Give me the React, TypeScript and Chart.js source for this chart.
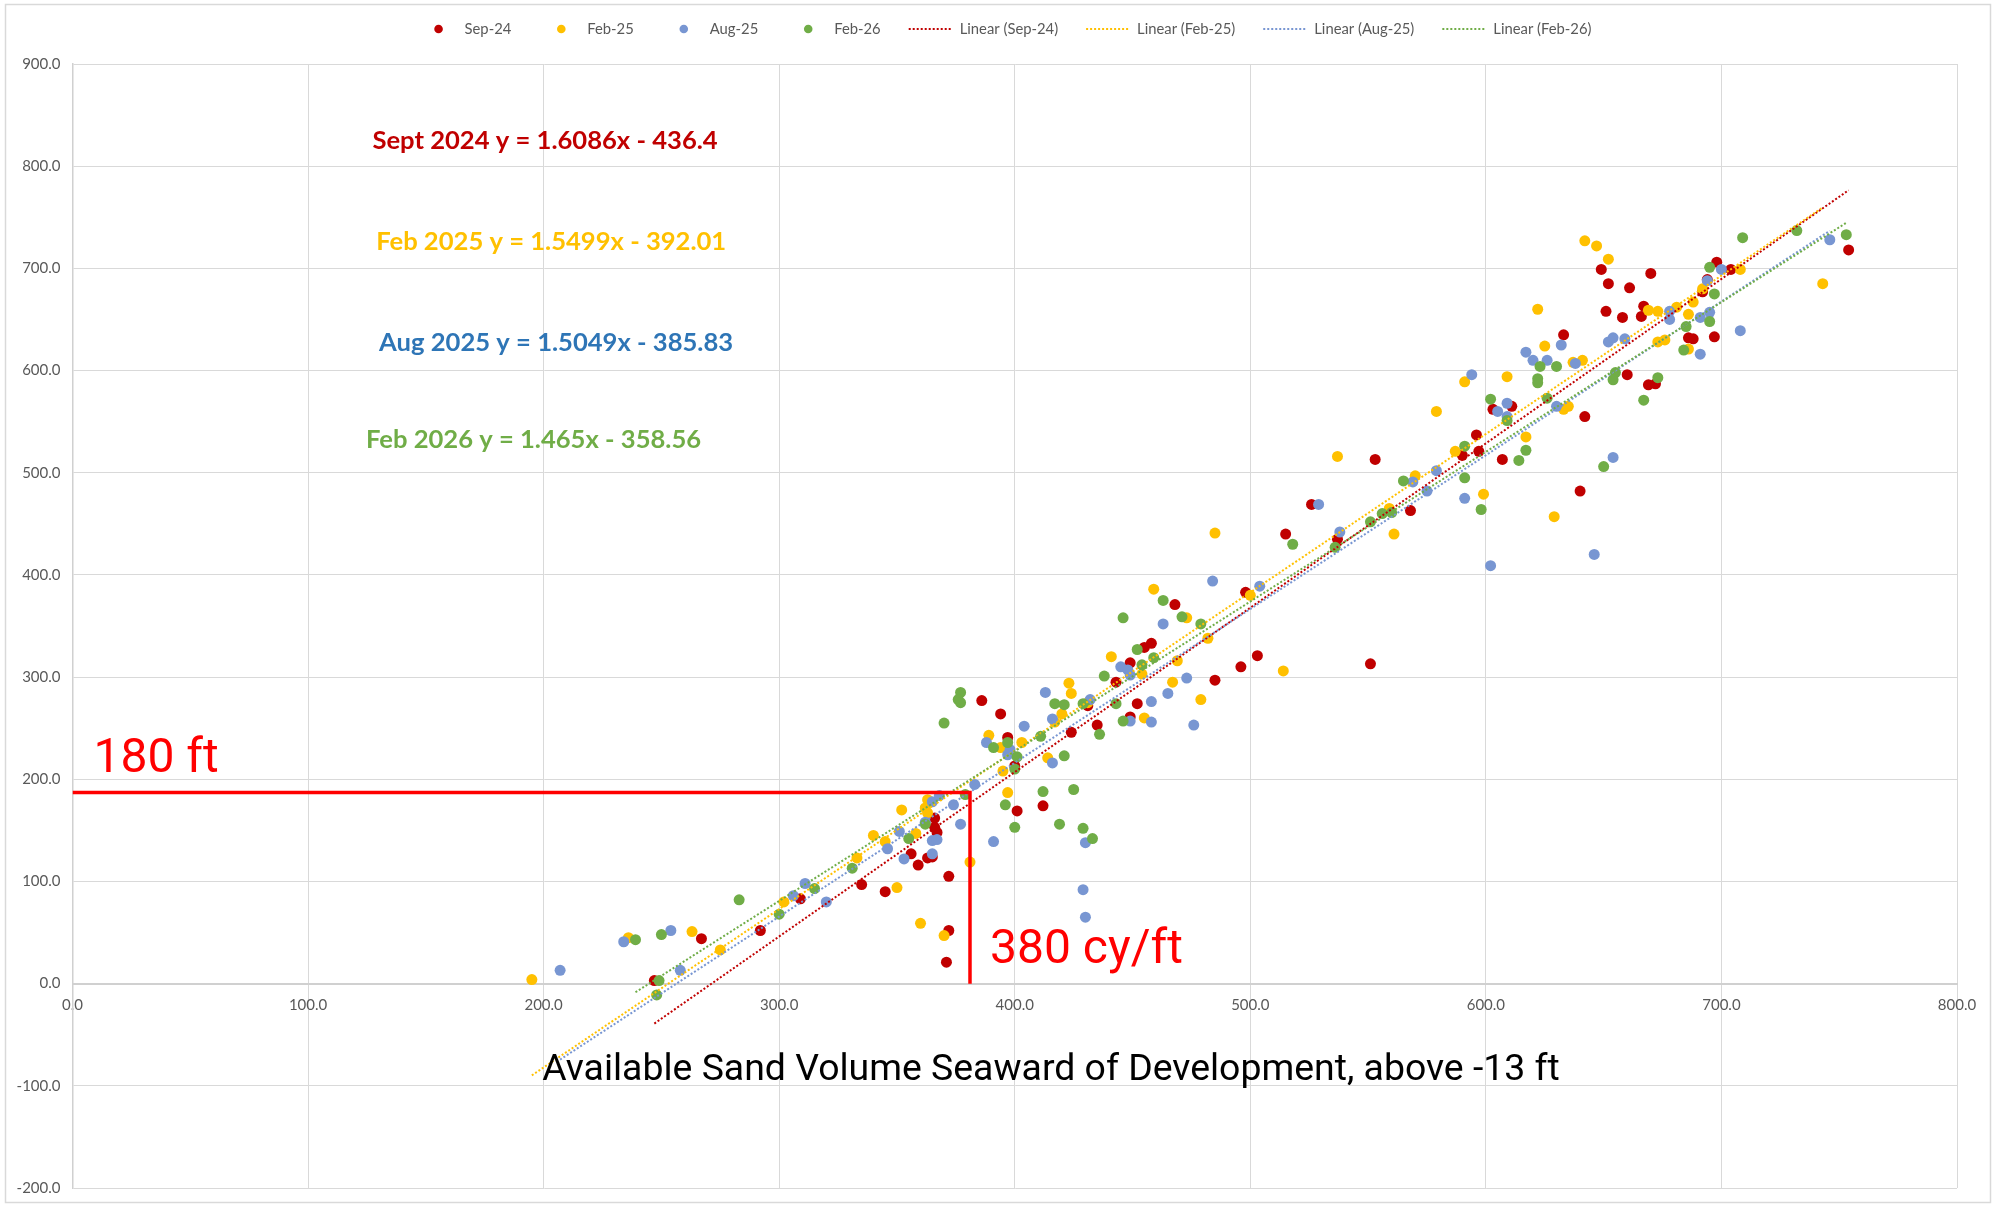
import React, { useEffect, useRef } from "react";
import { Chart, registerables } from "chart.js";

Chart.register(...registerables);

// ---------------- DATA ----------------
const seriesNames = ["Sep-24", "Feb-25", "Aug-25", "Feb-26"];
const trendNames = ["Linear (Sep-24)", "Linear (Feb-25)", "Linear (Aug-25)", "Linear (Feb-26)"];

const sep24X = [247, 267, 292, 309, 335, 345, 356, 359, 366, 366, 367, 363, 365, 372, 371, 372, 498, 468, 458, 455, 449, 496, 503, 443, 485, 452, 431, 435, 424, 449, 394, 386, 397, 400, 401, 412, 603, 611, 596, 597, 590, 607, 568, 553, 526, 515, 537, 551, 649, 652, 661, 670, 651, 658, 666, 667, 692, 694, 698, 704, 754, 633, 660, 669, 672, 686, 688, 697, 642, 640];
const sep24Y = [3, 44, 52, 83, 97, 90, 127, 116, 162, 153, 148, 123, 124, 52, 21, 105, 383, 371, 333, 329, 314, 310, 321, 295, 297, 274, 272, 253, 246, 261, 264, 277, 241, 213, 169, 174, 562, 565, 537, 521, 517, 513, 463, 513, 469, 440, 435, 313, 699, 685, 681, 695, 658, 652, 653, 663, 677, 689, 706, 699, 718, 635, 596, 586, 587, 632, 631, 633, 555, 482];

const feb25X = [195, 236, 263, 275, 302, 333, 340, 345, 350, 352, 358, 360, 362, 363, 363, 370, 485, 500, 459, 473, 482, 441, 454, 469, 467, 479, 423, 424, 431, 420, 417, 455, 389, 394, 403, 395, 414, 397, 381, 622, 625, 609, 591, 579, 587, 617, 599, 570, 559, 561, 537, 514, 642, 647, 652, 669, 673, 681, 686, 688, 692, 708, 743, 637, 641, 673, 676, 686, 633, 635, 629];
const feb25Y = [4, 45, 51, 33, 80, 123, 145, 139, 94, 170, 147, 59, 172, 180, 167, 47, 441, 380, 386, 358, 338, 320, 303, 316, 295, 278, 294, 284, 275, 264, 256, 260, 243, 231, 236, 208, 221, 187, 119, 660, 624, 594, 589, 560, 521, 535, 479, 497, 465, 440, 516, 306, 727, 722, 709, 659, 658, 662, 655, 667, 680, 699, 685, 608, 610, 628, 630, 621, 562, 565, 457];

const aug25X = [207, 234, 254, 258, 306, 311, 320, 346, 351, 353, 362, 365, 368, 365, 367, 365, 374, 377, 484, 504, 463, 445, 448, 449, 473, 465, 476, 458, 413, 432, 416, 449, 458, 404, 388, 398, 397, 416, 383, 430, 391, 429, 430, 617, 620, 626, 594, 605, 609, 609, 591, 602, 579, 569, 575, 529, 538, 678, 678, 691, 695, 694, 700, 746, 708, 632, 638, 652, 654, 659, 691, 630, 654, 646];
const aug25Y = [13, 41, 52, 13, 86, 98, 80, 132, 149, 122, 158, 178, 184, 140, 141, 127, 175, 156, 394, 389, 352, 310, 307, 302, 299, 284, 253, 276, 285, 278, 259, 257, 256, 252, 236, 229, 224, 216, 195, 138, 139, 92, 65, 618, 610, 610, 596, 560, 568, 555, 475, 409, 502, 491, 482, 469, 442, 658, 650, 652, 657, 688, 699, 728, 639, 625, 607, 628, 632, 631, 616, 565, 515, 420];

const feb26X = [239, 250, 249, 248, 283, 300, 315, 331, 355, 362, 379, 370, 377, 376, 377, 463, 471, 479, 446, 452, 454, 459, 438, 443, 417, 421, 429, 436, 446, 391, 397, 401, 400, 421, 411, 396, 400, 412, 425, 419, 429, 433, 623, 622, 622, 602, 609, 626, 591, 617, 614, 591, 598, 565, 556, 560, 551, 518, 536, 685, 695, 697, 695, 709, 732, 753, 630, 655, 654, 673, 667, 684, 650];
const feb26Y = [43, 48, 3, -11, 82, 68, 93, 113, 142, 156, 185, 255, 285, 278, 275, 375, 359, 352, 358, 327, 312, 319, 301, 274, 274, 273, 274, 244, 257, 231, 236, 222, 210, 223, 242, 175, 153, 188, 190, 156, 152, 142, 604, 592, 588, 572, 551, 573, 526, 522, 512, 495, 464, 492, 460, 461, 452, 430, 427, 643, 648, 675, 701, 730, 737, 733, 604, 598, 591, 593, 571, 620, 506];

const trendSlope = [1.6086, 1.5499, 1.5049, 1.465];
const trendIntercept = [-436.4, -392.01, -385.83, -358.56];
const equationLabels = [
  "Sept 2024 y = 1.6086x - 436.4",
  "Feb 2025 y = 1.5499x - 392.01",
  "Aug 2025 y = 1.5049x - 385.83",
  "Feb 2026 y = 1.465x - 358.56",
];

const xTickValues = [0, 100, 200, 300, 400, 500, 600, 700, 800];
const yTickValues = [-200, -100, 0, 100, 200, 300, 400, 500, 600, 700, 800, 900];

const refLineX = [0, 381, 381];
const refLineY = [187, 187, 0];
const refLabels = ["180 ft", "380 cy/ft"];
const xAxisTitle = "Available Sand Volume Seaward of Development, above -13 ft";

// ---------------- STYLE ----------------
const markerColors = ["#C00000", "#FFC000", "#7896D2", "#70AD47"];
const equationColors = ["#C00000", "#FFC000", "#2E75B6", "#70AD47"];
const W = 1995;
const H = 1206;

export default function App() {
  const canvasRef = useRef<HTMLCanvasElement | null>(null);

  useEffect(() => {
    const canvas = canvasRef.current;
    if (!canvas) return;
    const xs = [sep24X, feb25X, aug25X, feb26X];
    const ys = [sep24Y, feb25Y, aug25Y, feb26Y];

    const scatterSets = seriesNames.map((name, i) => ({
      label: name,
      data: xs[i].map((x, k) => ({ x, y: ys[i][k] })),
      backgroundColor: markerColors[i],
      borderColor: markerColors[i],
      pointRadius: 5.5,
      pointHoverRadius: 5.5,
      pointBorderWidth: 0,
      showLine: false,
      order: 20 - i,
    }));

    const trendSets = trendNames.map((name, i) => {
      const lo = Math.min(...xs[i]);
      const hi = Math.max(...xs[i]);
      return {
        label: name,
        data: [
          { x: lo, y: trendSlope[i] * lo + trendIntercept[i] },
          { x: hi, y: trendSlope[i] * hi + trendIntercept[i] },
        ],
        showLine: true,
        borderColor: markerColors[i],
        backgroundColor: markerColors[i],
        borderWidth: 2,
        borderDash: [2, 2],
        pointRadius: 0,
        pointHoverRadius: 0,
        fill: false,
        order: 10 - i,
      };
    });

    const refSet = {
      label: "ref",
      data: refLineX.map((x, k) => ({ x, y: refLineY[k] })),
      showLine: true,
      borderColor: "#FF0000",
      backgroundColor: "#FF0000",
      borderWidth: 3.5,
      borderJoinStyle: "miter",
      pointRadius: 0,
      pointHoverRadius: 0,
      fill: false,
      order: 0,
    };

    const decor = {
      id: "decor",
      beforeDraw(chart: any) {
        const { ctx } = chart;
        ctx.save();
        ctx.fillStyle = "#FFFFFF";
        ctx.fillRect(0, 0, W, H);
        ctx.strokeStyle = "#D9D9D9";
        ctx.lineWidth = 1.5;
        ctx.strokeRect(5.5, 4.5, W - 10, H - 8);
        ctx.restore();
      },
      afterDraw(chart: any) {
        const { ctx } = chart;
        const sx = chart.scales.x;
        const sy = chart.scales.y;
        ctx.save();

        // equation labels (anchored in data coordinates)
        const eqAnchorX = [200.6, 203.2, 205.3, 195.7];
        const eqAnchorY = [816.5, 717.7, 619.0, 524.4];
        ctx.font = "bold 25.6px Lato";
        ctx.textAlign = "center";
        ctx.textBaseline = "alphabetic";
        equationLabels.forEach((t, i) => {
          ctx.fillStyle = equationColors[i];
          ctx.fillText(t, sx.getPixelForValue(eqAnchorX[i]), sy.getPixelForValue(eqAnchorY[i]));
        });

        // reference labels
        ctx.font = "48px Roboto";
        ctx.fillStyle = "#FF0000";
        ctx.textAlign = "left";
        ctx.fillText(refLabels[0], sx.getPixelForValue(8.9), sy.getPixelForValue(206.9));
        ctx.fillText(refLabels[1], sx.getPixelForValue(389.5), sy.getPixelForValue(20));

        // axis title
        ctx.font = "37.4px Roboto";
        ctx.fillStyle = "#000000";
        ctx.textAlign = "center";
        ctx.fillText(xAxisTitle, sx.getPixelForValue(415.4), sy.getPixelForValue(-94.1));

        // legend
        ctx.font = "14.8px Lato";
        ctx.textBaseline = "middle";
        ctx.textAlign = "left";
        const symW = 44;
        const items = [
          ...seriesNames.map((t, i) => ({ t, c: markerColors[i], dot: true })),
          ...trendNames.map((t, i) => ({ t, c: markerColors[i], dot: false })),
        ];
        const gapItem = 28;
        const gapFor = (dot: boolean) => (dot ? 4 : 7);
        const widths = items.map((it) => symW + gapFor(it.dot) + ctx.measureText(it.t).width);
        const total = widths.reduce((a, b) => a + b, 0) + gapItem * (items.length - 1);
        let lx = 1004 - total / 2;
        const ly = 29;
        items.forEach((it, k) => {
          if (it.dot) {
            ctx.fillStyle = it.c;
            ctx.beginPath();
            ctx.arc(lx + symW / 2, ly, 4.3, 0, Math.PI * 2);
            ctx.fill();
          } else {
            ctx.strokeStyle = it.c;
            ctx.lineWidth = 2;
            ctx.setLineDash([2, 2]);
            ctx.beginPath();
            ctx.moveTo(lx, ly);
            ctx.lineTo(lx + symW, ly);
            ctx.stroke();
            ctx.setLineDash([]);
          }
          ctx.fillStyle = "#595959";
          ctx.fillText(it.t, lx + symW + gapFor(it.dot), ly);
          lx += widths[k] + gapItem;
        });
        ctx.restore();
      },
    };

    const tickFont = { family: "Lato", size: 15 };
    const chart = new Chart(canvas, {
      type: "scatter",
      data: { datasets: [...scatterSets, ...trendSets, refSet] as any },
      options: {
        animation: false,
        responsive: false,
        devicePixelRatio: 1,
        events: [],
        layout: { padding: { top: 64, right: 38, bottom: 18, left: 0 } },
        plugins: {
          legend: { display: false },
          tooltip: { enabled: false },
          title: { display: false },
        },
        scales: {
          x: {
            type: "linear",
            position: { y: 0 } as any,
            min: 0,
            max: 800,
            afterBuildTicks: (scale: any) => {
              scale.ticks = xTickValues.map((v) => ({ value: v }));
            },
            afterFit: (scale: any) => {
              scale.paddingLeft = 0;
              scale.paddingRight = 0;
            },
            ticks: {
              color: "#595959",
              font: tickFont,
              padding: 13,
              maxRotation: 0,
              autoSkip: false,
              callback: (v: any) => Number(v).toFixed(1),
            },
            grid: { color: "#D9D9D9", lineWidth: 1, drawTicks: false },
            border: { color: "#D0D0D0", width: 2 },
          },
          y: {
            type: "linear",
            position: "left",
            min: -200,
            max: 900,
            afterBuildTicks: (scale: any) => {
              scale.ticks = yTickValues.map((v) => ({ value: v }));
            },
            afterFit: (scale: any) => {
              scale.width = 72.5;
              scale.paddingTop = 0;
              scale.paddingBottom = 0;
            },
            ticks: {
              color: "#595959",
              font: tickFont,
              padding: 12,
              autoSkip: false,
              callback: (v: any) => Number(v).toFixed(1),
            },
            grid: { color: "#D9D9D9", lineWidth: 1, drawTicks: false },
            border: { color: "#D0D0D0", width: 1.5 },
          },
        },
      },
      plugins: [decor],
    } as any);

    return () => {
      chart.destroy();
    };
  }, []);

  return (
    <div style={{ position: "absolute", left: 0, top: 0, width: W, height: H, background: "#FFFFFF" }}>
      <canvas ref={canvasRef} width={W} height={H} style={{ display: "block", width: W, height: H }} />
    </div>
  );
}
